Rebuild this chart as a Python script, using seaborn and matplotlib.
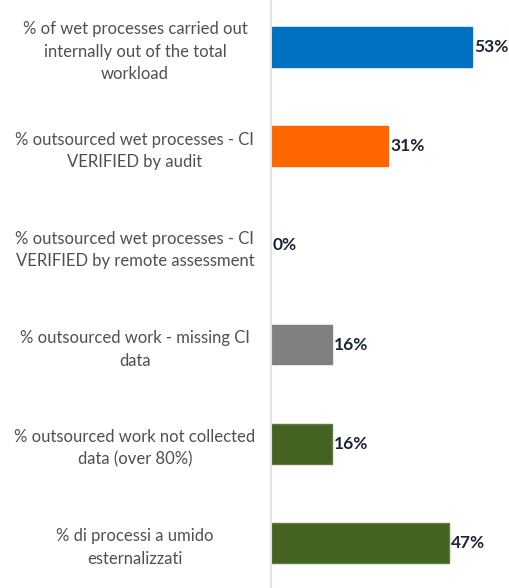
import matplotlib
matplotlib.use("Agg")
import matplotlib.pyplot as plt
import seaborn as sns
import pandas as pd

# Chart data
labels = [
    "% of wet processes carried out\ninternally out of the total\nworkload",
    "% outsourced wet processes - CI\nVERIFIED by audit",
    "% outsourced wet processes - CI\nVERIFIED by remote assessment",
    "% outsourced work - missing CI\ndata",
    "% outsourced work not collected\ndata (over 80%)",
    "% di processi a umido\nesternalizzati",
]
values = [53, 31, 0, 16, 16, 47]
bar_colors = ["#0070C0", "#FF6600", "#0070C0", "#808080", "#446222", "#446222"]
edge_colors = ["#0070C0", "#FF6600", "none", "#808080", "#5E7F3C", "#5E7F3C"]

df = pd.DataFrame({"label": labels, "value": values})

sns.set_theme(style="white")
plt.rcParams["font.family"] = ["Lato", "DejaVu Sans"]

fig = plt.figure(figsize=(5.09, 5.88), dpi=100)
ax = fig.add_axes([271 / 509, 0, 238 / 509, 1])

sns.barplot(data=df, x="value", y="label", hue="label", palette=bar_colors,
            legend=False, width=0.4, orient="h", ax=ax, saturation=1)

for patch, ec in zip(ax.patches, edge_colors):
    patch.set_edgecolor(ec)
    patch.set_linewidth(1.0 if ec != "none" else 0)

# value labels at the end of each bar
for i, v in enumerate(values):
    ax.text(v + 0.5, i, f"{v}%", va="center", ha="left", fontsize=12.5,
            fontweight="bold", color="#1C2533")

ax.set_xlim(0, 62.8)
ax.set_ylim(5.454, -0.474)
ax.set_xlabel("")
ax.set_ylabel("")
ax.set_xticks([])
ax.set_yticks(range(len(labels)))
ax.set_yticklabels(labels, ha="center", fontsize=12, color="#505050",
                   fontweight="normal", linespacing=1.5)
ax.tick_params(axis="y", length=0, pad=98)

for s in ["top", "right", "bottom"]:
    ax.spines[s].set_visible(False)
ax.spines["left"].set_color("#E3E3E3")
ax.spines["left"].set_linewidth(1.5)

fig.savefig("out.png", dpi=100)
